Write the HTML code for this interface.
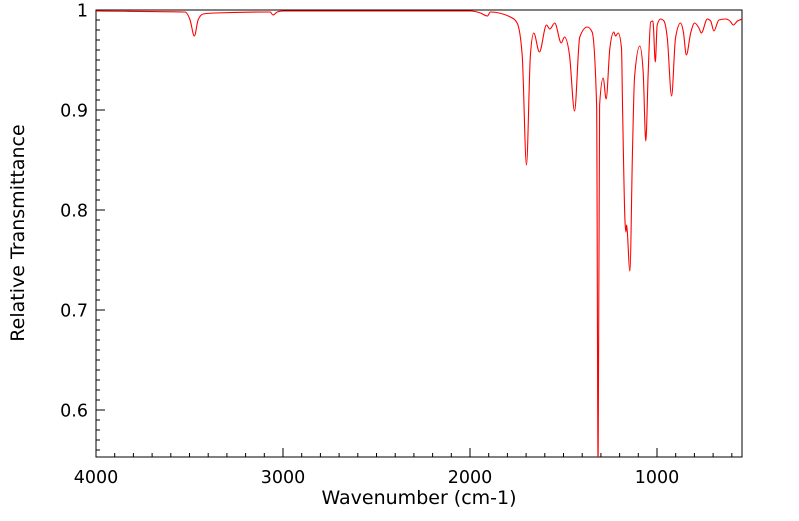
<!DOCTYPE html>
<html><head><meta charset="utf-8"><style>
body{margin:0;background:#fff;}
svg text{font-family:"DejaVu Sans","Liberation Sans",sans-serif;fill:#000;}
</style></head><body>
<svg id="chart" width="799" height="516" xmlns="http://www.w3.org/2000/svg">
<defs><clipPath id="clip"><rect x="96" y="10" width="646" height="447"/></clipPath></defs>
<rect x="96" y="10" width="646" height="447" fill="#fff" stroke="#000" stroke-width="1"/>
<g id="ticks"></g>
<g id="labels"></g>
<path id="line" fill="none" stroke="#ff0000" stroke-width="1.1" clip-path="url(#clip)"/>
<text x="419" y="504" font-size="19" text-anchor="middle">Wavenumber (cm-1)</text>
<text x="24" y="233" font-size="19" text-anchor="middle" transform="rotate(-90 24 233)">Relative Transmittance</text>
</svg>
<script>
const wavenumbers=[4000,3524,3497,3474,3454,3427,3363,3069,3053,3031,3000,2266,2000,1944,1907,1891,1784,1748,1721,1698,1677,1659,1629,1591,1573,1547,1512,1495,1468,1441,1413,1373,1347,1323,1315,1307,1288,1272,1252,1231,1222,1207,1190,1184,1171,1166,1163,1145,1131,1120,1092,1074,1060,1047,1034,1022,1009,999,981,963,945,922,901,874,859,843,820,799,776,763,731,713,696,669,633,610,592,570,542];
const transmittance=[0.999,0.998,0.99,0.974,0.99,0.996,0.997,0.998,0.995,0.998,0.999,0.999,0.999,0.997,0.994,0.998,0.993,0.987,0.955,0.845,0.955,0.977,0.958,0.985,0.981,0.987,0.967,0.973,0.955,0.899,0.973,0.983,0.978,0.905,0.54,0.905,0.932,0.911,0.962,0.978,0.974,0.977,0.962,0.9,0.788,0.778,0.785,0.739,0.86,0.933,0.964,0.938,0.869,0.938,0.988,0.989,0.948,0.985,0.991,0.989,0.972,0.914,0.972,0.987,0.978,0.955,0.977,0.987,0.982,0.977,0.991,0.989,0.979,0.99,0.991,0.989,0.985,0.989,0.991];
const xTickLabels=[4000,3000,2000,1000];
const yTickLabels=["0.6","0.7","0.8","0.9","1"];
const X0=96,X1=742,Y0=10,Y1=457,WMAX=4000,WMIN=545.5,TMAX=1,TMIN=0.553;
function xs(w){return X0+(WMAX-w)/(WMAX-WMIN)*(X1-X0);}
function ys(t){return Y0+(TMAX-t)/(TMAX-TMIN)*(Y1-Y0);}
const NS="http://www.w3.org/2000/svg";
const P=wavenumbers.map((w,i)=>[xs(w),ys(transmittance[i])]);
const n=P.length,sl=[],m=[];
for(let i=0;i<n-1;i++)sl.push((P[i+1][1]-P[i][1])/(P[i+1][0]-P[i][0]));
for(let i=0;i<n;i++){
  if(i===0)m.push(sl[0]);else if(i===n-1)m.push(sl[n-2]);
  else{const a=sl[i-1],b=sl[i];
    if(a*b<=0)m.push(0);
    else{const h0=P[i][0]-P[i-1][0],h1=P[i+1][0]-P[i][0];
      const p=(a*h1+b*h0)/(h0+h1);
      m.push((Math.sign(a)+Math.sign(b))*Math.min(Math.abs(a),Math.abs(b),0.5*Math.abs(p))||0);}}
}
let d="M"+P[0][0].toFixed(2)+","+P[0][1].toFixed(2);
for(let i=0;i<n-1;i++){
  const h=(P[i+1][0]-P[i][0])/3;
  d+="C"+(P[i][0]+h).toFixed(2)+","+(P[i][1]+m[i]*h).toFixed(2)+" "+(P[i+1][0]-h).toFixed(2)+","+(P[i+1][1]-m[i+1]*h).toFixed(2)+" "+P[i+1][0].toFixed(2)+","+P[i+1][1].toFixed(2);
}
document.getElementById("line").setAttribute("d",d);
const tg=document.getElementById("ticks"),lg=document.getElementById("labels");
function line(x1,y1,x2,y2){const l=document.createElementNS(NS,"line");
l.setAttribute("x1",x1);l.setAttribute("y1",y1);l.setAttribute("x2",x2);l.setAttribute("y2",y2);
l.setAttribute("stroke","#000");l.setAttribute("stroke-width","1");


tg.appendChild(l);}
for(let w=4000;w>=WMIN;w-=100){const x=xs(w),maj=w%1000===0;line(x,Y1,x,Y1-(maj?9:4));}
for(let q=56;q<=100;q++){const y=ys(q/100),maj=q%10===0;line(X0,y,X0+(maj?9:4),y);}
xTickLabels.forEach(v=>{const t=document.createElementNS(NS,"text");
t.setAttribute("x",xs(v));t.setAttribute("y",483);t.setAttribute("font-size","17.5");t.setAttribute("text-anchor","middle");
t.textContent=v;


lg.appendChild(t);});
yTickLabels.forEach(v=>{const t=document.createElementNS(NS,"text");
t.setAttribute("x",88);t.setAttribute("y",ys(parseFloat(v))+6.5);t.setAttribute("font-size","17.5");t.setAttribute("text-anchor","end");
t.textContent=v;


lg.appendChild(t);});
</script>
</body></html>
